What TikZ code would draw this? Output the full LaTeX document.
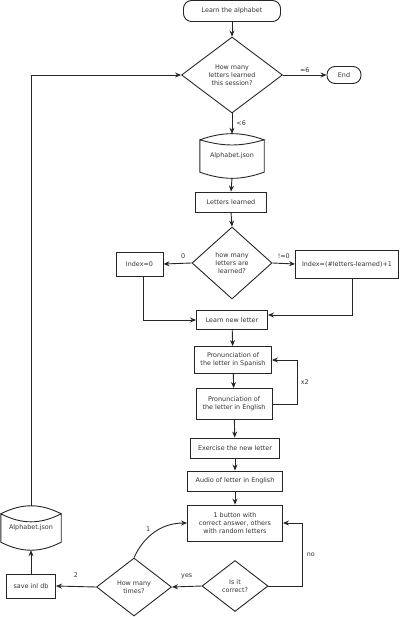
\documentclass[tikz,border=0pt]{standalone}
\usepackage{fontspec}
\setmainfont{DejaVu Sans}
\usetikzlibrary{shapes.geometric,arrows.meta}
\begin{document}
\begin{tikzpicture}[x=1pt,y=-1pt,
    every node/.style={font=\fontsize{6.4}{7.8}\selectfont, text=black!80, align=center, inner sep=1pt},
    box/.style={draw=black!85, rectangle, line width=0.9pt},
    term/.style={draw=black!85, rectangle, rounded corners=8pt, line width=0.9pt},
    decision/.style={draw=black!85, diamond, inner sep=0pt, line width=0.9pt},
    store/.style={rectangle, inner sep=0pt},
    storeline/.style={draw=black!85, line width=0.9pt},
    line/.style={draw=black!85, line width=0.9pt, -{Stealth[length=6pt,width=5pt]}}]
    \useasboundingbox (0,0) rectangle (400,617);
    \node [term, minimum width=97pt, minimum height=21pt] (start) at (232,11) {Learn the alphabet};
    \node [decision, minimum width=101pt, minimum height=76pt] (session) at (232,75) {How many\\letters learned\\this session?};
    \node [term, minimum width=34pt, minimum height=17pt] (end) at (344,75) {End};
    \node [store, minimum width=64pt, minimum height=32pt] (dbtop) at (232,156) {Alphabet.json};
    \node [box, minimum width=71pt, minimum height=20pt] (learned) at (231,202) {Letters learned};
    \node [decision, minimum width=80pt, minimum height=72pt] (howmany) at (232,263) {how many\\letters are\\learned?};
    \node [box, minimum width=47pt, minimum height=24pt] (idxzero) at (139.5,264) {Index=0};
    \node [box, minimum width=103pt, minimum height=28pt] (idxnext) at (347,264) {Index=(\#letters-learned)+1};
    \node [box, minimum width=71pt, minimum height=19pt] (newletter) at (232,320) {Learn new letter};
    \node [box, minimum width=77pt, minimum height=27pt] (spanish) at (233,360) {Pronunciation of\\the letter in Spanish};
    \node [box, minimum width=76pt, minimum height=31pt] (english) at (234,404) {Pronunciation of\\the letter in English};
    \node [box, minimum width=89pt, minimum height=20pt] (exercise) at (235,448) {Exercise the new letter};
    \node [box, minimum width=95pt, minimum height=20pt] (audio) at (235,481) {Audio of letter in English};
    \node [box, minimum width=95pt, minimum height=36pt] (buttons) at (235,523) {1 button with\\correct answer, others\\with random letters};
    \node [decision, minimum width=66pt, minimum height=51pt] (correct) at (235,586) {Is it\\correct?};
    \node [decision, minimum width=75pt, minimum height=58pt] (times) at (134,587) {How many\\times?};
    \node [box, minimum width=49pt, minimum height=24pt] (savedb) at (31,586) {save inl db};
    \node [store, minimum width=60pt, minimum height=28pt] (dbleft) at (31,528) {Alphabet.json};
    \draw [storeline] (dbtop.north west) to [bend left=19] (dbtop.north east) to [bend left=16] (dbtop.north west) -- (dbtop.south west) to [bend right=19] (dbtop.south east) -- (dbtop.north east);
    \draw [storeline] (dbleft.north west) to [bend left=27] (dbleft.north east) to [bend left=27] (dbleft.north west) -- (dbleft.south west) to [bend right=27] (dbleft.south east) -- (dbleft.north east);
    \draw [line] (start) -- (session);
    \draw [line] (session.east) -- node [above=1pt] {=6} (end.west);
    \draw [line] (session.south) -- node [right=3pt] {<6} ([yshift=6pt]dbtop.north);
    \draw [line] ([yshift=-6pt]dbtop.south) -- (learned.north);
    \draw [line] (learned.south) -- (howmany.north);
    \draw [line] (howmany.west) -- node [pos=0.3, above=3pt] {0} (idxzero.east);
    \draw [line] (howmany.east) -- node [above=3pt] {!=0} (idxnext.west);
    \draw [line] ([xshift=4pt]idxzero.south) |- (newletter.west);
    \draw [line] ([xshift=5pt]idxnext.south) |- ([yshift=5pt]newletter.east);
    \draw [line] (newletter) -- (spanish);
    \draw [line] (spanish) -- (english);
    \draw [line] (english.east) -- ++(25,0) |- node [pos=0.25, right=2pt] {x2} (spanish.east);
    \draw [line] (english) -- (exercise);
    \draw [line] (exercise) -- (audio);
    \draw [line] (audio) -- (buttons);
    \draw [line] (correct.east) -- ++(34,0) |- node [pos=0.25, right=3pt] {no} (buttons.east);
    \draw [line] (correct.west) -- node [above=6pt] {yes} (times.east);
    \draw [line] (times.north) to [out=65, in=180] node [pos=0.45, above left=1pt] {1} (buttons.west);
    \draw [line] (times.west) -- node [above=8pt] {2} (savedb.east);
    \draw [line] (savedb.north) -- ([yshift=-8pt]dbleft.south);
    \draw [line] ([yshift=8pt]dbleft.north) |- (session.west);
\end{tikzpicture}
\end{document}
